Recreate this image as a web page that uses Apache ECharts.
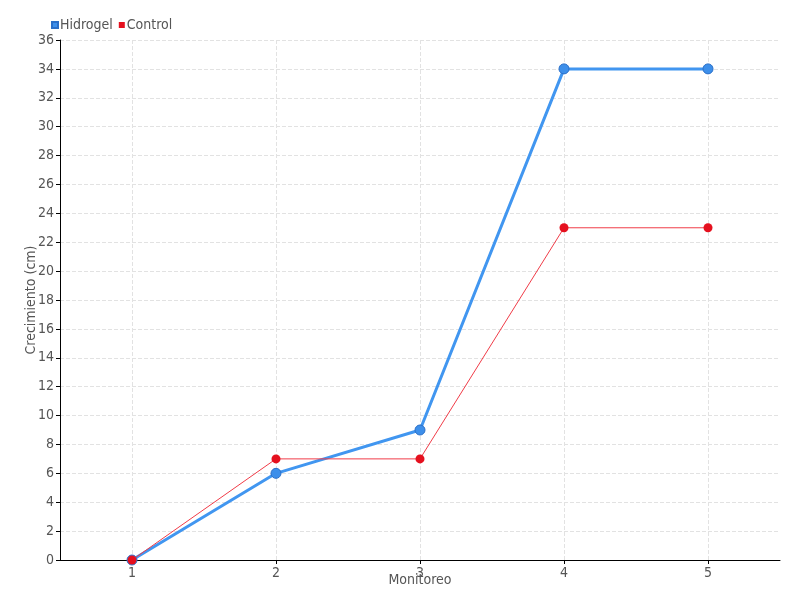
<!DOCTYPE html>
<html>
<head>
<meta charset="utf-8">
<script src="https://cdn.jsdelivr.net/npm/echarts@6/dist/echarts.min.js"></script>
<style>
  html, body { margin: 0; padding: 0; background: #fff; }
  #chart { width: 800px; height: 600px; }
</style>
</head>
<body>
<div id="chart"></div>
<script>
// datos del monitoreo
const monitoreo = [1, 2, 3, 4, 5];
const hidrogel = [0, 6, 9, 34, 34];
const control = [0, 7, 7, 23, 23];

const pares = (ys) => monitoreo.map((m, i) => [m, ys[i]]);

const fontFam = '"DejaVu Sans Condensed", "Liberation Sans", sans-serif';
const gris = '#555';

const myChart = echarts.init(document.getElementById('chart'));
const option = {
  animation: false,
  textStyle: { fontFamily: fontFam },
  legend: {
    left: 46,
    top: 13,
    itemWidth: 6,
    itemHeight: 6,
    itemGap: 6,
    icon: 'rect',
    textStyle: { color: gris, fontSize: 14, fontFamily: fontFam, padding: [0, 0, 0, -3] },
    data: ['Hidrogel', 'Control']
  },
  grid: { left: 60, right: 20, top: 40, bottom: 40, outerBoundsMode: 'none', containLabel: false },
  xAxis: {
    type: 'value',
    min: 0.5,
    max: 5.5,
    splitNumber: 5,
    name: 'Monitoreo',
    nameLocation: 'middle',
    nameGap: 13,
    nameMoveOverlap: false,
    nameTextStyle: { color: gris, fontSize: 14 },
    axisLine: { lineStyle: { color: '#000' } },
    axisTick: { lineStyle: { color: '#000' }, length: 4 },
    axisLabel: { color: gris, fontSize: 14, showMinLabel: false, showMaxLabel: false, margin: 6 },
    splitLine: { show: true, showMinLine: false, showMaxLine: false, lineStyle: { type: 'dashed', color: '#e2e2e2' } }
  },
  yAxis: {
    type: 'value',
    min: 0,
    max: 36,
    interval: 2,
    name: 'Crecimiento (cm)',
    nameLocation: 'middle',
    nameGap: 22,
    nameMoveOverlap: false,
    nameTextStyle: { color: gris, fontSize: 14 },
    axisLine: { show: true, lineStyle: { color: '#000' } },
    axisTick: { show: true, lineStyle: { color: '#000' }, length: 4 },
    axisLabel: { color: gris, fontSize: 14, margin: 6 },
    splitLine: { lineStyle: { type: 'dashed', color: '#e2e2e2' } }
  },
  series: [
    {
      name: 'Hidrogel',
      type: 'line',
      data: pares(hidrogel),
      symbol: 'circle',
      symbolSize: 10,
      lineStyle: { color: '#4196f0', width: 3 },
      itemStyle: { color: '#3d8fea', borderColor: '#2a6fc8', borderWidth: 1 },
      z: 2
    },
    {
      name: 'Control',
      type: 'line',
      data: pares(control),
      symbol: 'circle',
      symbolSize: 9,
      lineStyle: { color: '#f03c48', width: 1 },
      itemStyle: { color: '#e5101e', borderWidth: 0 },
      z: 3
    }
  ]
};
myChart.setOption(option);
</script>
</body>
</html>
